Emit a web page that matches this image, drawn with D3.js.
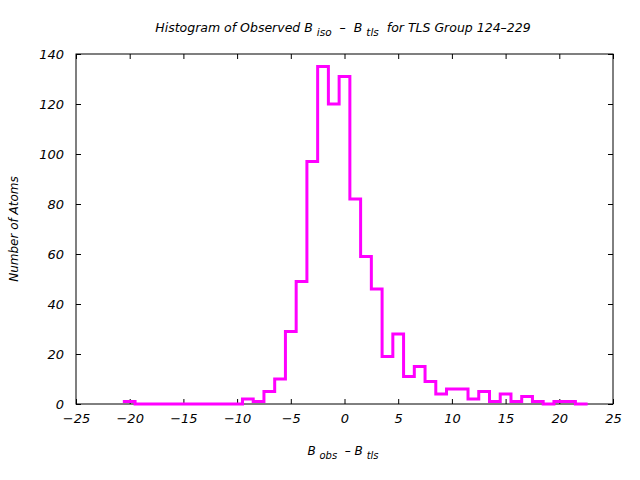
<!DOCTYPE html>
<html><head><meta charset="utf-8">
<script src="https://cdn.jsdelivr.net/npm/d3@7"></script>
<style>
body{margin:0;background:#fff;}
text{font-family:"DejaVu Sans",sans-serif;font-style:italic;font-size:12px;fill:#000;white-space:pre;}
</style></head><body>
<svg id="c" width="640" height="480"></svg>
<script>
const binCenters = [-20,-19,-18,-17,-16,-15,-14,-13,-12,-11,-10,-9,-8,-7,-6,-5,-4,-3,-2,-1,0,1,2,3,4,5,6,7,8,9,10,11,12,13,14,15,16,17,18,19,20,21,22];
const counts =     [1,0,0,0,0,0,0,0,0,0,0,2,1,5,10,29,49,97,135,120,131,82,59,46,19,28,11,15,9,4,6,6,2,5,1,4,1,3,1,0,1,1,0];
const xTicks = [-25,-20,-15,-10,-5,0,5,10,15,20,25];
const yTicks = [0,20,40,60,80,100,120,140];

(function(){
const svg = d3.select("#c");
const L=76,R=613,T=54,B=404;
const x = d3.scaleLinear().domain([-25,25]).range([L,R]);
const y = d3.scaleLinear().domain([0,140]).range([B,T]);

svg.append("rect").attr("x",L).attr("y",T).attr("width",R-L).attr("height",B-T)
  .attr("fill","none").attr("stroke","#000").attr("stroke-width",1);

const tl=5;
const axB = d3.axisBottom(x).tickValues(xTicks).tickSizeInner(-tl).tickSizeOuter(0).tickPadding(10).tickFormat(d=>d<0?"\u2212"+(-d):d);
const gb = svg.append("g").attr("transform",`translate(0,${B})`).call(axB);
gb.select(".domain").remove();
gb.selectAll("text").style("font-size","13px");
const axT = d3.axisTop(x).tickValues(xTicks).tickSizeInner(-tl).tickSizeOuter(0).tickFormat("");
const gt = svg.append("g").attr("transform",`translate(0,${T})`).call(axT);
gt.select(".domain").remove();

const axL = d3.axisLeft(y).tickValues(yTicks).tickSizeInner(-tl).tickSizeOuter(0).tickPadding(12);
const gl = svg.append("g").attr("transform",`translate(${L},0)`).call(axL);
gl.select(".domain").remove();
gl.selectAll("text").style("font-size","13px");
const axR = d3.axisRight(y).tickValues(yTicks).tickSizeInner(-tl).tickSizeOuter(0).tickFormat("");
const gr = svg.append("g").attr("transform",`translate(${R},0)`).call(axR);
gr.select(".domain").remove();
svg.selectAll(".tick line").attr("stroke","#000");
svg.selectAll(".tick text").attr("font-family",null);

const pts=[];
binCenters.forEach((c,i)=>{pts.push([c-0.5,counts[i]]);pts.push([c+0.5,counts[i]]);});
const line = d3.line().x(d=>x(d[0])).y(d=>y(d[1]));
svg.append("path").attr("d",line(pts)).attr("fill","none").attr("stroke","#ff00ff")
  .attr("stroke-width",3).attr("stroke-linejoin","miter").attr("stroke-linecap","square");

const title = svg.append("text").attr("x",343).attr("y",32).attr("text-anchor","middle").style("font-size","12.5px");
title.append("tspan").text("Histogram of Observed B ");
title.append("tspan").attr("dy",4).style("font-size","10.5px").text("iso");
title.append("tspan").attr("dy",-4).text("  \u2013  B ");
title.append("tspan").attr("dy",4).style("font-size","10.5px").text("tls");
title.append("tspan").attr("dy",-4).text("  for TLS Group 124\u2013229");

const xl = svg.append("text").attr("x",343).attr("y",455).attr("text-anchor","middle");
xl.append("tspan").text("B ");
xl.append("tspan").attr("dy",4).style("font-size","10px").text("obs");
xl.append("tspan").attr("dy",-4).text("  \u2013 B ");
xl.append("tspan").attr("dy",4).style("font-size","10px").text("tls");

svg.append("text").attr("transform","translate(18,229) rotate(-90)").attr("text-anchor","middle").text("Number of Atoms");
})();
</script>
</body></html>
